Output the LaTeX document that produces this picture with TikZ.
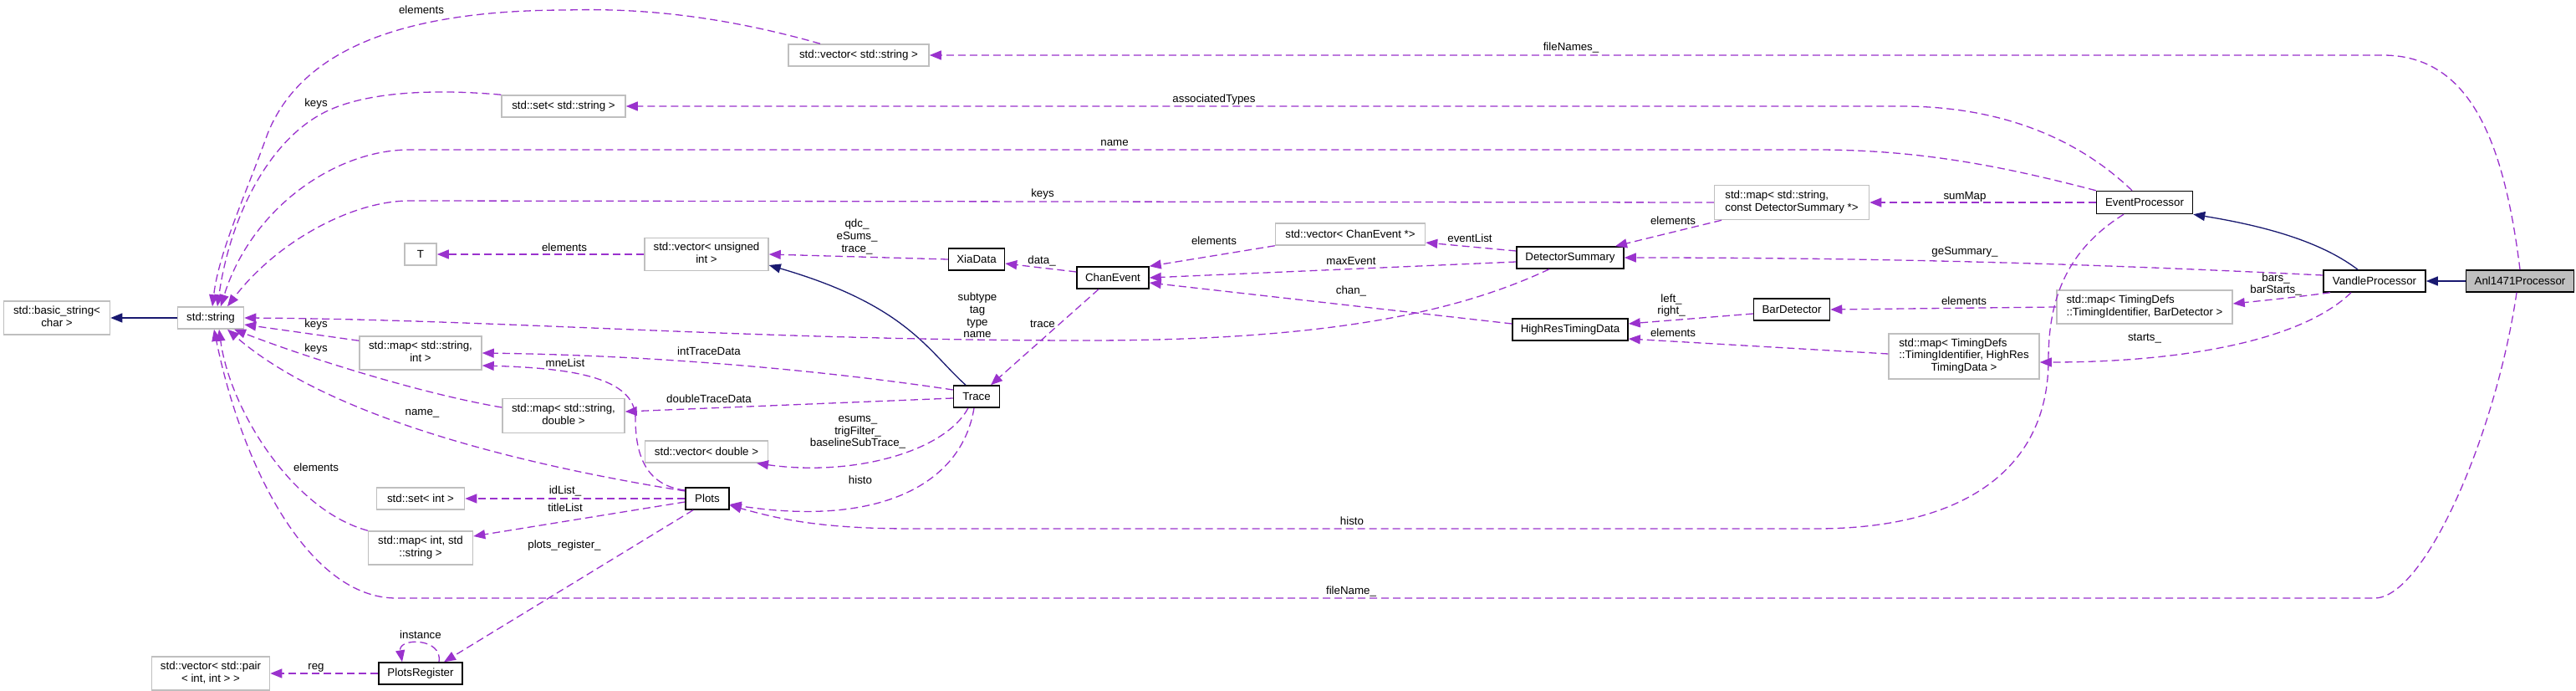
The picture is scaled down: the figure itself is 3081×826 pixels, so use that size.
\documentclass[tikz,border=0pt]{standalone}
\usepackage{fontspec}
\setmainfont{Liberation Sans}
\usetikzlibrary{arrows.meta}
\definecolor{mpurple}{HTML}{9A32CD}
\definecolor{navyb}{HTML}{191970}
\definecolor{boxgray}{HTML}{BFBFBF}
\newcommand\twoln[2]{\begin{tabular}{@{}l@{}}#1\\\multicolumn{1}{@{}c@{}}{#2}\end{tabular}}
\newcommand\threeln[3]{\begin{tabular}{@{}l@{}}#1\\#2\\\multicolumn{1}{@{}c@{}}{#3}\end{tabular}}
\begin{document}
\begin{tikzpicture}[x=1pt,y=-1pt,
  fnt/.style={font=\fontsize{13.3}{14.7}\selectfont},
  cls/.style={fnt, draw=black, line width=1.5pt, fill=white, inner sep=0pt, align=center},
  lib/.style={cls, draw=boxgray},
  mem/.style={draw=mpurple, line width=1.3pt, dash pattern=on 9pt off 5pt, -{Triangle[length=14pt,width=11pt]}},
  inh/.style={draw=navyb, line width=1.3pt, -{Triangle[length=14pt,width=11pt]}},
  elab/.style={fnt, inner sep=0pt, align=center}]
\useasboundingbox (0,0) rectangle (3081,826);

% ---------- nodes ----------
\node[lib, minimum width=127pt, minimum height=40pt] (basic) at (68,380) {\twoln{std::basic\_string<}{char >}};
\node[lib, minimum width=79pt, minimum height=26pt] (str) at (252,380) {std::string};
\node[lib, minimum width=148pt, minimum height=26pt] (setstr) at (674,127) {std::set< std::string >};
\node[lib, minimum width=38pt, minimum height=26pt] (T) at (503,304) {T};
\node[lib, minimum width=148pt, minimum height=39pt] (vecuint) at (845,304) {\twoln{std::vector< unsigned}{int >}};
\node[lib, minimum width=168pt, minimum height=26pt] (vecstr) at (1027,66) {std::vector< std::string >};
\node[cls, minimum width=67pt, minimum height=26pt] (xia) at (1168,310) {XiaData};
\node[cls, minimum width=86pt, minimum height=26pt] (chan) at (1331,332) {ChanEvent};
\node[lib, minimum width=179pt, minimum height=26pt] (vecchan) at (1615,280) {std::vector< ChanEvent *>};
\node[cls, minimum width=128pt, minimum height=26pt] (detsum) at (1878,308) {DetectorSummary};
\node[lib, minimum width=185pt, minimum height=41pt] (mapds) at (2143,242) {\twoln{std::map< std::string,}{const DetectorSummary *>}};
\node[cls, minimum width=91pt, minimum height=26pt] (bar) at (2143,370) {BarDetector};
\node[cls, minimum width=138pt, minimum height=26pt] (hrtd) at (1878,394) {HighResTimingData};
\node[lib, minimum width=180pt, minimum height=54pt] (maptdhr) at (2349,426) {\threeln{std::map< TimingDefs}{::TimingIdentifier, HighRes}{TimingData >}};
\node[cls, minimum width=115pt, minimum height=27pt] (evp) at (2565,242) {EventProcessor};
\node[cls, minimum width=122pt, minimum height=26pt] (vandle) at (2840,336) {VandleProcessor};
\node[cls, fill=boxgray, minimum width=129pt, minimum height=26pt] (anl) at (3014,336) {Anl1471Processor};
\node[lib, minimum width=210pt, minimum height=40pt] (maptdbar) at (2565,367) {\twoln{std::map< TimingDefs}{::TimingIdentifier, BarDetector >}};
\node[lib, minimum width=146pt, minimum height=40pt] (mapsi) at (503,422) {\twoln{std::map< std::string,}{int >}};
\node[lib, minimum width=146pt, minimum height=41pt] (mapsd) at (674,497) {\twoln{std::map< std::string,}{double >}};
\node[cls, minimum width=55pt, minimum height=26pt] (trace) at (1168,474) {Trace};
\node[lib, minimum width=147pt, minimum height=26pt] (vecdbl) at (845,540) {std::vector< double >};
\node[cls, minimum width=52pt, minimum height=26pt] (plots) at (846,596) {Plots};
\node[lib, minimum width=105pt, minimum height=26pt] (setint) at (503,596) {std::set< int >};
\node[lib, minimum width=125pt, minimum height=40pt] (mapis) at (503,655) {\twoln{std::map< int, std}{::string >}};
\node[cls, minimum width=100pt, minimum height=26pt] (preg) at (503,805) {PlotsRegister};
\node[lib, minimum width=141pt, minimum height=40pt] (vecpair) at (252,805) {\twoln{std::vector< std::pair}{< int, int > >}};

% ---------- inheritance ----------
\draw[inh] (anl.west) -- (vandle.east);
\draw[inh] ([xshift=-20pt]vandle.north) .. controls (2780,292) and (2720,272) .. (evp.south east);
\draw[inh] ([xshift=-13pt]trace.north) .. controls (1110,420) and (1085,365) .. ([yshift=-13pt]vecuint.east);
\draw[inh] (str.west) -- (basic.east);

% ---------- members into std::string ----------
\draw[mem] ([xshift=-46pt]vecstr.north) .. controls (850,15) and (750,10) .. (679,12) .. controls (480,12) and (360,60) .. (320,160) .. controls (295,230) and (262,300) .. ([xshift=2pt]str.north);
\draw[mem] (setstr.north west) .. controls (540,108) and (440,105) .. (383,137) .. controls (320,172) and (275,260) .. ([xshift=8pt]str.north);
\draw[mem] (evp.north west) .. controls (2400,200) and (2300,179) .. (2172,179) -- (490,179) .. controls (400,179) and (300,250) .. ([xshift=12pt]str.north);
\draw[mem] (mapds.west) -- (490,240) .. controls (420,240) and (330,290) .. ([xshift=20pt]str.north);
\draw[mem] ([xshift=-25pt]detsum.south) .. controls (1750,370) and (1600,407) .. (1300,407) .. controls (900,407) and (600,382) .. (str.east);
\draw[mem] ([yshift=-6pt]mapsi.north west) -- ([yshift=-8pt]str.east);
\draw[mem] ([yshift=10pt]mapsd.west) .. controls (500,470) and (360,425) .. ([xshift=28pt]str.south);
\draw[mem] ([yshift=9pt]plots.west) .. controls (650,560) and (400,505) .. ([xshift=20pt]str.south);
\draw[mem] (mapis.north west) .. controls (350,610) and (275,490) .. ([xshift=10pt]str.south);
\draw[mem] ([xshift=-4pt]anl.south) .. controls (2985,520) and (2900,715) .. (2840,715) -- (474,715) .. controls (370,715) and (290,560) .. ([xshift=4pt]str.south);

% ---------- other members ----------
\draw[mem] (anl.north) .. controls (2995,170) and (2955,66) .. (2850,66) -- (vecstr.east);
\draw[mem] ([xshift=-15pt]evp.north) .. controls (2490,170) and (2400,127) .. (2274,127) -- (setstr.east);
\draw[mem] (evp.west) -- (mapds.east);
\draw[mem] ([xshift=-84pt]mapds.south) -- ([xshift=54pt]detsum.north);
\draw[mem] ([yshift=7pt]vandle.west) .. controls (2550,318) and (2300,308) .. (detsum.east);
\draw[mem] ([yshift=8pt]detsum.west) -- ([yshift=-10pt]vecchan.east);
\draw[mem] ([yshift=-5pt]detsum.west) -- (chan.east);
\draw[mem] (vecchan.south west) -- (chan.north east);
\draw[mem] ([yshift=7pt]hrtd.west) -- ([yshift=-6pt]chan.east);
\draw[mem] ([yshift=7pt]chan.west) -- ([yshift=-5pt]xia.east);
\draw[mem] (xia.west) -- (vecuint.east);
\draw[mem] (vecuint.west) -- (T.east);
\draw[mem] ([xshift=-17pt]chan.south) -- ([xshift=17pt]trace.north);
\draw[mem] ([yshift=8pt]trace.west) .. controls (1000,445) and (800,425) .. (mapsi.east);
\draw[mem] ([yshift=-2pt]trace.west) -- ([yshift=5pt]mapsd.east);
\draw[mem] ([yshift=10pt]plots.west) .. controls (770,580) and (760,540) .. (760,500) .. controls (760,450) and (680,440) .. ([yshift=-15pt]mapsi.east);
\draw[mem] ([xshift=-10pt]trace.south) .. controls (1130,540) and (1020,570) .. ([xshift=60pt]vecdbl.south);
\draw[mem] ([xshift=-3pt]trace.south) .. controls (1150,580) and (1050,630) .. ([yshift=-7pt]plots.east);
\draw[mem] ([xshift=-25pt]evp.south) .. controls (2470,300) and (2450,360) .. (2450,430) .. controls (2450,560) and (2350,632) .. (2172,632) -- (1090,632) .. controls (980,632) and (930,620) .. ([yshift=-8pt]plots.east);
\draw[mem] (plots.west) -- (setint.east);
\draw[mem] ([yshift=-4pt]plots.west) -- ([yshift=14pt]mapis.east);
\draw[mem] ([xshift=-17pt]plots.south) -- ([xshift=28pt]preg.north);
\draw[mem] ([xshift=22pt]preg.north) .. controls (530,762) and (476,762) .. ([xshift=-22pt]preg.north);
\draw[mem] (preg.west) -- (vecpair.east);
\draw[mem] ([xshift=-53pt]vandle.south) .. controls (2740,356) and (2700,360) .. ([yshift=4pt]maptdbar.east);
\draw[mem] (maptdbar.west) -- (bar.east);
\draw[mem] ([yshift=-5pt]bar.west) -- ([yshift=7pt]hrtd.east);
\draw[mem] ([yshift=3pt]maptdhr.west) -- ([yshift=-11pt]hrtd.east);
\draw[mem] ([xshift=-28pt]vandle.south) .. controls (2750,410) and (2600,433) .. ([yshift=-7pt]maptdhr.east);

% ---------- edge labels ----------
\node[elab] (l01) at (504,12) {elements};
\node[elab] (l02) at (378,124) {keys};
\node[elab] (l03) at (1333,171) {name};
\node[elab] (l04) at (1247,232) {keys};
\node[elab] (l05) at (1879,57) {fileNames\_};
\node[elab] (l06) at (1452,119) {associatedTypes};
\node[elab] (l07) at (2350,235) {sumMap};
\node[elab] (l08) at (2001,264) {elements};
\node[elab] (l09) at (2350,301) {geSummary\_};
\node[elab] (l10) at (1758,285) {eventList};
\node[elab] (l11) at (1616,312) {maxEvent};
\node[elab] (l12) at (1452,288) {elements};
\node[elab] (l13) at (1616,348) {chan\_};
\node[elab] (l14) at (1246,312) {data\_};
\node[elab] (l15) at (1025,283) {qdc\_\\eSums\_\\trace\_};
\node[elab] (l16) at (675,296) {elements};
\node[elab] (l17) at (1247,387) {trace};
\node[elab] (l18) at (1169,377) {subtype\\tag\\type\\name};
\node[elab] (l19) at (378,388) {keys};
\node[elab] (l20) at (378,417) {keys};
\node[elab] (l21) at (505,494) {name\_};
\node[elab] (l22) at (378,559) {elements};
\node[elab] (l23) at (1616,707) {fileName\_};
\node[elab] (l24) at (848,420) {intTraceData};
\node[elab] (l25) at (848,477) {doubleTraceData};
\node[elab] (l26) at (676,434) {mneList};
\node[elab] (l27) at (1026,517) {esums\_\\trigFilter\_\\baselineSubTrace\_};
\node[elab] (l28) at (1029,574) {histo};
\node[elab] (l29) at (1617,623) {histo};
\node[elab] (l30) at (676,587) {idList\_};
\node[elab] (l31) at (676,607) {titleList};
\node[elab] (l32) at (675,652) {plots\_register\_};
\node[elab] (l33) at (503,759) {instance};
\node[elab] (l34) at (378,798) {reg};
\node[elab] (l35) at (2722,340) {bars\_\\barStarts\_};
\node[elab] (l36) at (2349,360) {elements};
\node[elab] (l37) at (1999,365) {left\_\\right\_};
\node[elab] (l38) at (2001,398) {elements};
\node[elab] (l39) at (2565,405) {starts\_};
\end{tikzpicture}
\end{document}
